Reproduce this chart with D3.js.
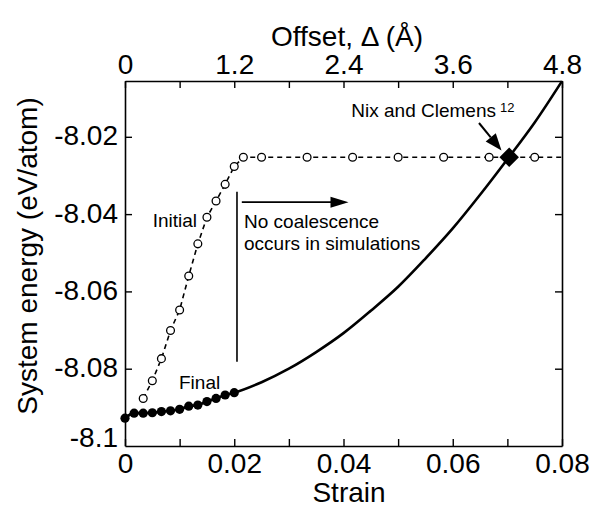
<!DOCTYPE html>
<html>
<head>
<meta charset="utf-8">
<script src="https://cdn.jsdelivr.net/npm/d3@7"></script>
<style>
  html, body { margin: 0; padding: 0; background: #fff; }
  svg { display: block; }
  text { font-family: "Liberation Sans", Arial, Helvetica, sans-serif; fill: #000; }
</style>
</head>
<body>
<svg id="chart" width="599" height="508"></svg>
<script>
// Offset Δ (Å) of each simulation, with the system energy (eV/atom)
const initialOffset = [0.2, 0.3, 0.4, 0.5, 0.6, 0.7, 0.8, 0.9, 1.0, 1.1, 1.2, 1.3, 1.5, 2.0, 2.5, 3.0, 3.5, 4.0, 4.5];
const initialEnergy = [-8.0877, -8.0831, -8.0774, -8.0701, -8.0648, -8.0560, -8.0477, -8.0408, -8.0366, -8.0323,
                       -8.0277, -8.0253, -8.0253, -8.0253, -8.0253, -8.0253, -8.0253, -8.0253, -8.0253];

const finalOffset = [0, 0.1, 0.2, 0.3, 0.4, 0.5, 0.6, 0.7, 0.8, 0.9, 1.0, 1.1, 1.2];
const finalEnergy = [-8.0928, -8.0915, -8.0915, -8.0914, -8.0911, -8.0909, -8.0905, -8.0897, -8.0894, -8.0885,
                     -8.0877, -8.0868, -8.0862];

// elastic energy curve beyond the simulated range
const curveOffset = [1.5, 1.8, 2.1, 2.4, 2.7, 3.0, 3.3, 3.6, 3.9, 4.2, 4.5, 4.8];
const curveEnergy = [-8.0835, -8.0800, -8.0757, -8.0708, -8.0650, -8.0588, -8.0515, -8.0437, -8.0350, -8.0258,
                     -8.0163, -8.0056];

// Nix and Clemens estimate
const nixOffset = [4.22];
const nixEnergy = [-8.0253];

// axis ticks
const strainTicks = [0, 0.01, 0.02, 0.03, 0.04, 0.05, 0.06, 0.07, 0.08];
const strainLabels = ["0", "", "0.02", "", "0.04", "", "0.06", "", "0.08"];
const offsetTicks = [0, 0.6, 1.2, 1.8, 2.4, 3.0, 3.6, 4.2, 4.8];
const offsetLabels = ["0", "", "1.2", "", "2.4", "", "3.6", "", "4.8"];
const energyTicks = [-8.1, -8.08, -8.06, -8.04, -8.02];
const energyLabels = ["-8.1", "-8.08", "-8.06", "-8.04", "-8.02"];

const svg = d3.select("#chart");
const L = 125, R = 562, T = 81, B = 446;

const xStrain = d3.scaleLinear().domain([0, 0.08]).range([L, R]);
const xOff = d3.scaleLinear().domain([0, 4.8]).range([L, R]);
const y = d3.scaleLinear().domain([-8.1, -8.00556]).range([B, T]);

const initial = initialOffset.map((o, i) => [o, initialEnergy[i]]);
const final = finalOffset.map((o, i) => [o, finalEnergy[i]]);
const curve = curveOffset.map((o, i) => [o, curveEnergy[i]]);

const line = d3.line().x(d => xOff(d[0])).y(d => y(d[1]));

// initial configurations: dashed line running on to the right edge
const initialLine = initial.concat([[xOff.domain()[1], initialEnergy[initialEnergy.length - 1]]]);
svg.append("path")
  .attr("d", line(initialLine))
  .attr("fill", "none").attr("stroke", "#000")
  .attr("stroke-width", 1.6).attr("stroke-dasharray", "5,4");

svg.append("g").selectAll("circle").data(initial).join("circle")
  .attr("cx", d => xOff(d[0])).attr("cy", d => y(d[1])).attr("r", 3.9)
  .attr("fill", "#fff").attr("stroke", "#000").attr("stroke-width", 1.3);

// final configurations and the continuing energy curve
svg.append("path")
  .attr("d", line.curve(d3.curveMonotoneX)(final.concat(curve)))
  .attr("fill", "none").attr("stroke", "#000").attr("stroke-width", 2.6);

svg.append("g").selectAll("circle").data(final).join("circle")
  .attr("cx", d => xOff(d[0])).attr("cy", d => y(d[1])).attr("r", 4.6)
  .attr("fill", "#000");

// diamond marker
svg.append("g").selectAll("path").data(nixOffset.map((o, i) => [o, nixEnergy[i]])).join("path")
  .attr("transform", d => `translate(${xOff(d[0])},${y(d[1])}) rotate(45)`)
  .attr("d", d3.symbol(d3.symbolSquare, 190)())
  .attr("fill", "#000");

// axes with inward ticks
const tickLen = 7;
const axBottom = svg.append("g").attr("transform", `translate(0,${B})`)
  .call(d3.axisBottom(xStrain).tickValues(strainTicks).tickFormat((d, i) => strainLabels[i])
    .tickSizeInner(-tickLen).tickSizeOuter(0).tickPadding(7));
const axTop = svg.append("g").attr("transform", `translate(0,${T})`)
  .call(d3.axisTop(xOff).tickValues(offsetTicks).tickFormat((d, i) => offsetLabels[i])
    .tickSizeInner(-tickLen).tickSizeOuter(0).tickPadding(7));
const axLeft = svg.append("g").attr("transform", `translate(${L},0)`)
  .call(d3.axisLeft(y).tickValues(energyTicks).tickFormat((d, i) => energyLabels[i])
    .tickSizeInner(-tickLen).tickSizeOuter(0).tickPadding(7));
const axRight = svg.append("g").attr("transform", `translate(${R},0)`)
  .call(d3.axisRight(y).tickValues(energyTicks).tickFormat("")
    .tickSizeInner(-tickLen).tickSizeOuter(0));

[axBottom, axTop, axLeft, axRight].forEach(g => {
  g.select(".domain").attr("stroke", "#000").attr("stroke-width", 1.6);
  g.selectAll(".tick line").attr("stroke", "#000").attr("stroke-width", 1.4);
  g.selectAll(".tick text").attr("font-size", 28).attr("font-family", null).attr("fill", "#000");
});
axLeft.selectAll(".tick text").attr("dy", d => d === -8.1 ? "0em" : "0.29em");
axLeft.select(".tick line").filter(d => d === -8.1).remove();
axRight.selectAll(".tick line").filter(d => d === -8.1).remove();

// axis titles
svg.append("text").attr("x", 349).attr("y", 502).attr("text-anchor", "middle")
  .attr("font-size", 28).text("Strain");
svg.append("text").attr("x", 347).attr("y", 46).attr("text-anchor", "middle")
  .attr("font-size", 28).text("Offset, Δ (Å)");
svg.append("text").attr("transform", "translate(37,256) rotate(-90)").attr("text-anchor", "middle")
  .attr("font-size", 28).text("System energy (eV/atom)");

// annotations
svg.append("text").attr("x", 197).attr("y", 227).attr("text-anchor", "end")
  .attr("font-size", 19).text("Initial");
svg.append("text").attr("x", 179).attr("y", 389)
  .attr("font-size", 19).text("Final");

// boundary of the simulated range
const vX = xOff(1.23);
svg.append("line").attr("x1", vX).attr("x2", vX).attr("y1", y(-8.0342)).attr("y2", y(-8.0782))
  .attr("stroke", "#000").attr("stroke-width", 1.6);

const aY = y(-8.0369), aX0 = xOff(1.283), aX1 = xOff(2.455);
svg.append("line").attr("x1", aX0).attr("x2", aX1 - 16).attr("y1", aY).attr("y2", aY)
  .attr("stroke", "#000").attr("stroke-width", 1.6);
svg.append("path")
  .attr("d", `M${aX1},${aY} L${aX1 - 18},${aY - 5.5} L${aX1 - 18},${aY + 5.5} Z`)
  .attr("fill", "#000");

const noText = svg.append("text").attr("x", 244).attr("y", 228).attr("font-size", 19);
noText.append("tspan").attr("x", 244).attr("dy", 0).text("No coalescence");
noText.append("tspan").attr("x", 244).attr("dy", 21.5).text("occurs in simulations");

// Nix and Clemens label with its pointer
svg.append("text").attr("x", 496).attr("y", 117).attr("text-anchor", "end")
  .attr("font-size", 19).text("Nix and Clemens");
svg.append("text").attr("x", 500).attr("y", 111.5).attr("font-size", 13).text("12");

const tipX = 501.5, tipY = 150.5, tailX = 479, tailY = 123;
const ang = Math.atan2(tipY - tailY, tipX - tailX);
const hl = 17, hw = 6.5;
const bx = tipX - hl * Math.cos(ang), by = tipY - hl * Math.sin(ang);
svg.append("line").attr("x1", tailX).attr("y1", tailY).attr("x2", bx).attr("y2", by)
  .attr("stroke", "#000").attr("stroke-width", 2);
svg.append("path")
  .attr("d", `M${tipX},${tipY} L${bx + hw * Math.sin(ang)},${by - hw * Math.cos(ang)} L${bx - hw * Math.sin(ang)},${by + hw * Math.cos(ang)} Z`)
  .attr("fill", "#000");
</script>
</body>
</html>
